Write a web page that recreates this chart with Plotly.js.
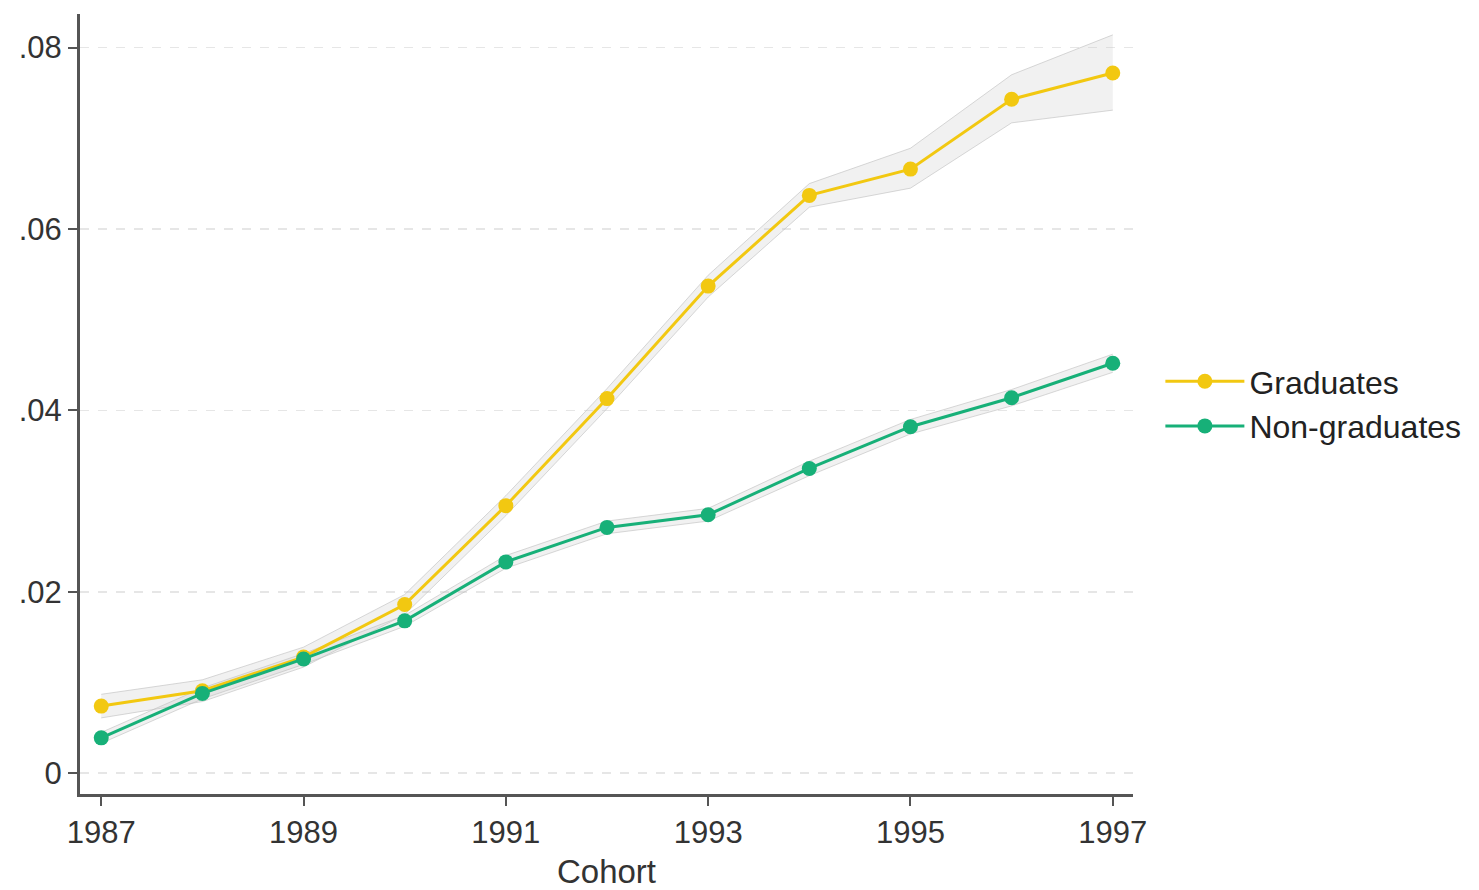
<!DOCTYPE html>
<html>
<head>
<meta charset="utf-8">
<script src="https://cdn.plot.ly/plotly-3.0.1.min.js"></script>
<style>html,body{margin:0;padding:0;background:#fff;}#chart{width:1479px;height:890px;}</style>
</head>
<body>
<div id="chart"></div>
<script>
const cohorts = [1987, 1988, 1989, 1990, 1991, 1992, 1993, 1994, 1995, 1996, 1997];

const graduates = [0.0074, 0.0091, 0.0128, 0.0186, 0.0295, 0.0413, 0.0537, 0.0637, 0.0666, 0.0743, 0.0772];
const graduatesLower = [0.0061, 0.0079, 0.0117, 0.0175, 0.0284, 0.0402, 0.0525, 0.0624, 0.0645, 0.0717, 0.0731];
const graduatesUpper = [0.0087, 0.0103, 0.0139, 0.0197, 0.0306, 0.0424, 0.0549, 0.0650, 0.0689, 0.0770, 0.0814];

const nonGraduates = [0.0039, 0.0088, 0.0126, 0.0168, 0.0233, 0.0271, 0.0285, 0.0336, 0.0382, 0.0414, 0.0452];
const nonGraduatesLower = [0.0033, 0.0082, 0.0120, 0.0162, 0.0226, 0.0264, 0.0278, 0.0328, 0.0374, 0.0405, 0.0442];
const nonGraduatesUpper = [0.0045, 0.0094, 0.0132, 0.0174, 0.0240, 0.0278, 0.0292, 0.0344, 0.0390, 0.0423, 0.0462];

const yTickVals = [0, 0.02, 0.04, 0.06, 0.08];
const yTickText = ['0', '.02', '.04', '.06', '.08'];
const xTickVals = [1987, 1989, 1991, 1993, 1995, 1997];
const xTickText = ['1987', '1989', '1991', '1993', '1995', '1997'];

const gold = '#F2C811';
const green = '#17B078';
const bandFill = 'rgba(200,200,200,0.25)';
const bandLine = 'rgba(190,190,190,0.6)';

function band(lower, upper) {
  return [
    {x: cohorts, y: lower, mode: 'lines', line: {color: bandLine, width: 1}, showlegend: false, hoverinfo: 'skip'},
    {x: cohorts, y: upper, mode: 'lines', line: {color: bandLine, width: 1}, fill: 'tonexty', fillcolor: bandFill, showlegend: false, hoverinfo: 'skip'}
  ];
}

const data = [
  ...band(graduatesLower, graduatesUpper),
  ...band(nonGraduatesLower, nonGraduatesUpper),
  {x: cohorts, y: graduates, name: 'Graduates', mode: 'lines+markers',
   line: {color: gold, width: 3}, marker: {color: gold, size: 15}},
  {x: cohorts, y: nonGraduates, name: 'Non-graduates', mode: 'lines+markers',
   line: {color: green, width: 3}, marker: {color: green, size: 15}}
];

const font = {family: 'Liberation Sans, Arial, sans-serif', color: '#333'};

const layout = {
  width: 1479, height: 890,
  margin: {l: 80, r: 346, t: 14, b: 96},
  paper_bgcolor: '#fff', plot_bgcolor: '#fff',
  font: font,
  showlegend: true,
  legend: {x: 1.026, xanchor: 'left', y: 0.5, yanchor: 'middle', traceorder: 'normal',
           font: {family: font.family, size: 32, color: '#222'}, itemwidth: 79,
           bgcolor: 'rgba(0,0,0,0)', borderwidth: 0},
  xaxis: {
    range: [1986.79, 1997.2],
    tickvals: xTickVals, ticktext: xTickText,
    tickfont: {family: font.family, size: 31, color: '#333'},
    ticks: 'outside', ticklen: 9, tickwidth: 2, tickcolor: '#555',
    showline: true, linecolor: '#555', linewidth: 3,
    showgrid: false, zeroline: false,
    title: {text: 'Cohort', font: {family: font.family, size: 33, color: '#333'}, standoff: 18}
  },
  yaxis: {
    range: [-0.00229, 0.0837],
    tickvals: yTickVals, ticktext: yTickText,
    tickfont: {family: font.family, size: 31, color: '#333'},
    ticks: 'outside', ticklen: 9, tickwidth: 2, tickcolor: '#555',
    showline: true, linecolor: '#555', linewidth: 3,
    showgrid: true, gridcolor: '#e6e6e6', griddash: 'dash', gridwidth: 1.5,
    zeroline: false
  }
};

Plotly.newPlot('chart', data, layout, {displayModeBar: false, staticPlot: true});
</script>
</body>
</html>
